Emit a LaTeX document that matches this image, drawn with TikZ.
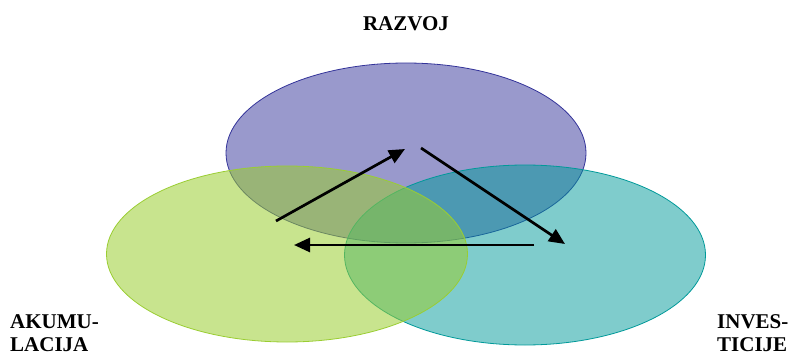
\documentclass[tikz,border=0pt]{standalone}
\usepackage{fontspec}
\setmainfont{Liberation Serif}
\usetikzlibrary{shapes.geometric,arrows.meta}
\definecolor{razvojcol}{RGB}{51,51,153}
\definecolor{akumcol}{RGB}{154,205,50}
\definecolor{investcol}{RGB}{0,153,153}

\begin{document}
\begin{tikzpicture}[x=1pt,y=-1pt,>={Triangle[length=16pt,width=14pt]},blob/.style={ellipse,draw,line width=0.8pt,inner sep=0pt,fill opacity=0.5},name node/.style={font=\bfseries\fontsize{21}{23}\selectfont,inner sep=0pt,align=left}]
                \useasboundingbox (0,0) rectangle (788,353);
                \node[blob,draw=razvojcol,fill=razvojcol,minimum width=360pt,minimum height=180pt] (razvoj) at (406,153) {};
                \node[blob,draw=investcol,fill=investcol,minimum width=361pt,minimum height=180pt] (invest) at (525,255) {};
                \node[blob,draw=akumcol,fill=akumcol,fill opacity=0.55,minimum width=361pt,minimum height=176pt] (akum) at (287,254) {};

                \node[name node,anchor=base] (t1) at (406,31) {RAZVOJ};
                \node[name node,anchor=north west] (t2) at (10,314) {AKUMU-\\LACIJA};
                \node[name node,anchor=north west] (t3) at (717,314) {INVES-\\TICIJE};

                \coordinate (a1) at (276,221);
                \coordinate (a2) at (405,149);
                \coordinate (b1) at (421,148);
                \coordinate (b2) at (565,244);
                \coordinate (c1) at (534,245);
                \coordinate (c2) at (294,245);

                \path[->,line width=2.7pt]
                    (a1) edge (a2)
                    (b1) edge (b2)
                    (c1) edge (c2)
                    ;
            \end{tikzpicture}
\end{document}
